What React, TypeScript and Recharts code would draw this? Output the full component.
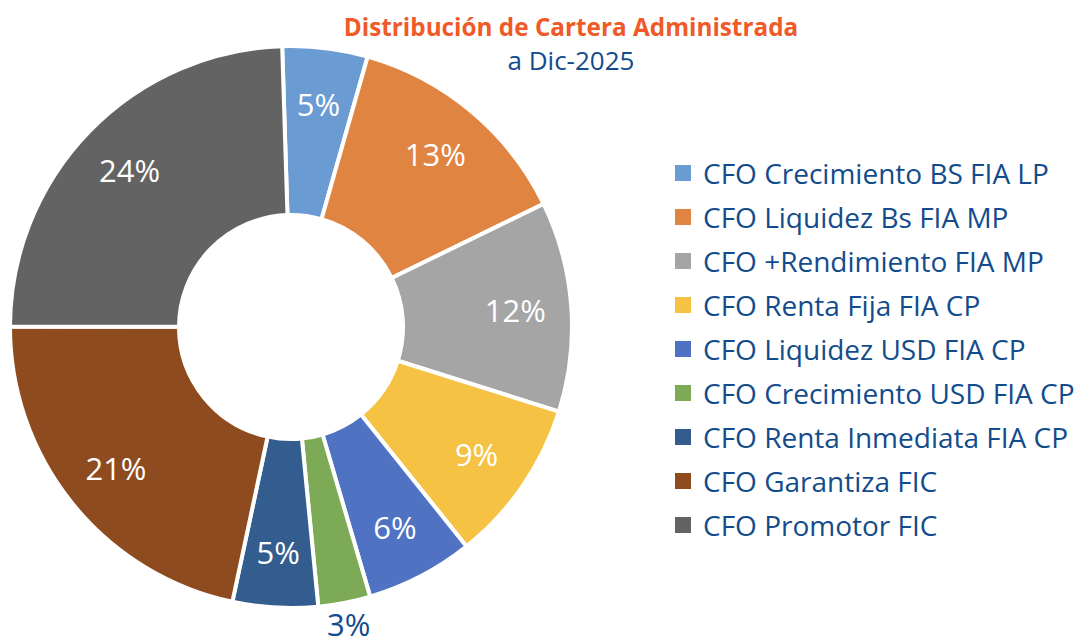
import React from 'react';
import { PieChart, Pie, Cell, Legend } from 'recharts';

const funds = [
  'CFO Crecimiento BS FIA LP',
  'CFO Liquidez Bs FIA MP',
  'CFO +Rendimiento FIA MP',
  'CFO Renta Fija FIA CP',
  'CFO Liquidez USD FIA CP',
  'CFO Crecimiento USD FIA CP',
  'CFO Renta Inmediata FIA CP',
  'CFO Garantiza FIC',
  'CFO Promotor FIC',
];
const shares = [4.9, 13.4, 12.1, 9.4, 6.2, 3.0, 4.9, 21.7, 24.5];
const shareLabels = ['5%', '13%', '12%', '9%', '6%', '3%', '5%', '21%', '24%'];
const outsideLabel = [false, false, false, false, false, true, false, false, false];
const colors = ['#6A9BD3', '#E08442', '#A5A5A5', '#F5C243', '#4F73C2', '#7DAA56', '#335D8F', '#8E4B1F', '#636363'];

const data = funds.map((name, i) => ({ name, value: shares[i], label: shareLabels[i], outside: outsideLabel[i] }));

const FONT = '"Open Sans", sans-serif';
const TEXT_BLUE = '#134C8C';
const RAD = Math.PI / 180;

const renderLabel = (props: any) => {
  const { cx, cy, midAngle, index } = props;
  const d = data[index];
  const r = d.outside ? 303 : 225;
  const x = cx + r * Math.cos(-midAngle * RAD);
  const y = cy + r * Math.sin(-midAngle * RAD);
  return (
    <text
      x={x}
      y={y}
      fill={d.outside ? TEXT_BLUE : '#FFFFFF'}
      textAnchor="middle"
      dominantBaseline="central"
      fontFamily={FONT}
      fontSize={31}
    >
      {d.label}
    </text>
  );
};

const renderLegend = () => (
  <div style={{ fontFamily: FONT }}>
    {data.map((d, i) => (
      <div key={d.name} style={{ display: 'flex', alignItems: 'center', height: 44 }}>
        <span style={{ display: 'inline-block', width: 16, height: 16, background: colors[i], marginRight: 12 }} />
        <span style={{ fontSize: 28, color: TEXT_BLUE, whiteSpace: 'nowrap', lineHeight: '44px' }}>{d.name}</span>
      </div>
    ))}
  </div>
);

export default function App() {
  return (
    <div style={{ position: 'absolute', left: 0, top: 0, width: 1079, height: 644, background: '#fff' }}>
      <div
        style={{
          position: 'absolute',
          left: 0,
          width: 1142,
          top: 10,
          textAlign: 'center',
          fontFamily: FONT,
        }}
      >
        <div style={{ color: '#F05A28', fontWeight: 700, fontSize: 24.3, lineHeight: '34px' }}>
          Distribución de Cartera Administrada
        </div>
        <div style={{ color: TEXT_BLUE, fontSize: 26, lineHeight: '32px' }}>a Dic-2025</div>
      </div>
      <PieChart
        width={1079}
        height={644}
        margin={{ top: 0, right: 0, bottom: 0, left: 0 }}
        style={{ position: 'absolute', left: 0, top: 0 }}
      >
        <Pie
          data={data}
          dataKey="value"
          nameKey="name"
          cx={291}
          cy={327}
          innerRadius={112}
          outerRadius={281}
          startAngle={91.8}
          endAngle={-268.2}
          stroke="#FFFFFF"
          strokeWidth={4}
          label={renderLabel}
          labelLine={false}
          isAnimationActive={false}
        >
          {data.map((d, i) => (
            <Cell key={d.name} fill={colors[i]} />
          ))}
        </Pie>
        <Legend
          layout="vertical"
          verticalAlign="top"
          align="right"
          wrapperStyle={{ left: 675, top: 151, width: 404 }}
          content={renderLegend}
        />
      </PieChart>
    </div>
  );
}
